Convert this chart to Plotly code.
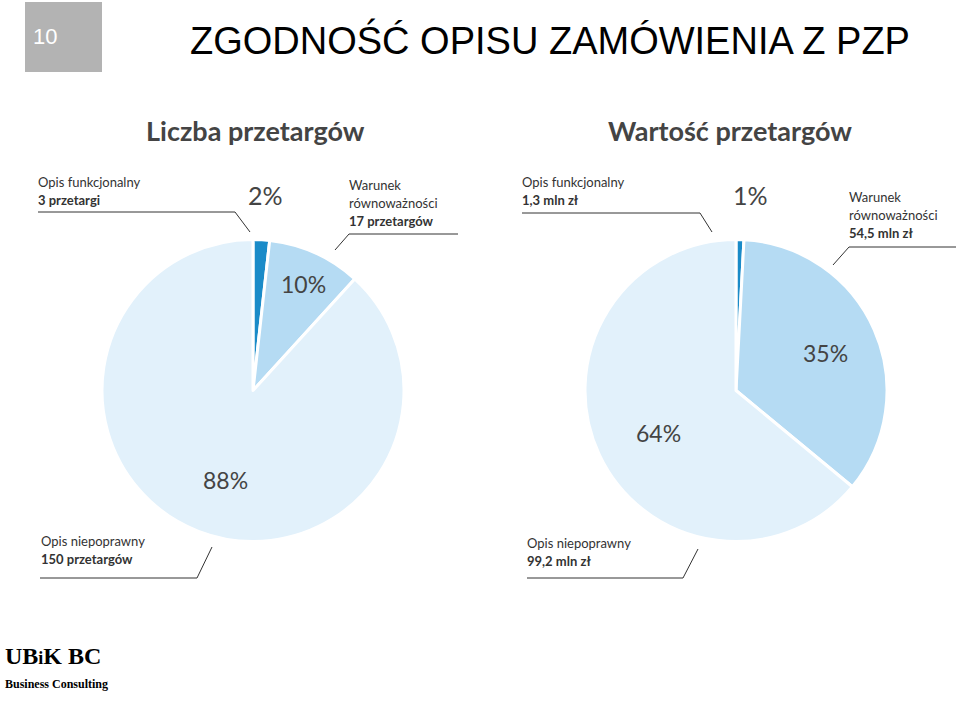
import plotly.graph_objects as go

labels = ["Opis funkcjonalny", "Warunek równoważności", "Opis niepoprawny"]
count_values = [3, 17, 150]
value_mln = [1.3, 54.5, 99.2]
colors = ["#1a8bc8", "#b5dbf3", "#e2f1fb"]

fig = go.Figure()
for vals, dom in [(count_values, [102/960, 404/960]), (value_mln, [585/960, 887/960])]:
    fig.add_trace(go.Pie(values=vals, labels=labels, sort=False, direction="clockwise", rotation=0,
                         marker=dict(colors=colors, line=dict(color="white", width=3)),
                         textinfo="none", hoverinfo="label+percent", showlegend=False,
                         domain=dict(x=dom, y=[(702-543)/702, (702-238)/702])))

def pct(v, i):
    return f"{round(100*v[i]/sum(v))}%"

F = "Lato, sans-serif"
ann = []
def A(x, y, t, s=13, anchor="left", color="#333", bold=False):
    ann.append(dict(x=x/960, y=1-y/702, xref="paper", yref="paper", text=f"<b>{t}</b>" if bold else t,
                    showarrow=False, xanchor=anchor, yanchor="middle", font=dict(family=F, size=s, color=color), align="left"))

A(144, 131, "Liczba przetargów", 27, bold=True, color="#444")
A(606, 131, "Wartość przetargów", 27, bold=True, color="#444")
A(265, 195, pct(count_values, 0), 25, "center", "#444")
A(303, 284, pct(count_values, 1), 23, "center", "#444")
A(225, 480, pct(count_values, 2), 23, "center", "#444")
A(36, 182, "Opis funkcjonalny", 13); A(36, 200, "<b>3 przetargi</b>", 13)
A(347, 185, "Warunek", 13); A(347, 203, "równoważności", 13); A(347, 221, "<b>17 przetargów</b>", 13)
A(39, 541, "Opis niepoprawny", 13); A(39, 559, "<b>150 przetargów</b>", 13)
A(750, 195, pct(value_mln, 0), 25, "center", "#444")
A(825, 353, pct(value_mln, 1), 23, "center", "#444")
A(658, 433, pct(value_mln, 2), 23, "center", "#444")
A(520, 182, "Opis funkcjonalny", 13); A(520, 200, "<b>1,3 mln zł</b>", 13)
A(847, 197, "Warunek", 13); A(847, 215, "równoważności", 13); A(847, 233, "<b>54,5 mln zł</b>", 13)
A(525, 543, "Opis niepoprawny", 13); A(525, 561, "<b>99,2 mln zł</b>", 13)
ann.append(dict(x=188/960, y=1-40/702, xref="paper", yref="paper", text="ZGODNOŚĆ OPISU ZAMÓWIENIA Z PZP",
                showarrow=False, xanchor="left", yanchor="middle", font=dict(family="Liberation Sans", size=38, color="black")))
ann.append(dict(x=45/960, y=1-22/702, xref="paper", yref="paper", text="10", showarrow=False, xanchor="center",
                font=dict(family="Liberation Sans", size=22, color="white")))
ann.append(dict(x=3/960, y=1-671/702, xref="paper", yref="paper", text="<b>UB<span style='font-size:18px'>i</span>K BC</b>", showarrow=False, xanchor="left",
                font=dict(family="Liberation Serif", size=24, color="black")))
ann.append(dict(x=3/960, y=1-693/702, xref="paper", yref="paper", text="<b>Business Consulting</b>", showarrow=False, xanchor="left",
                font=dict(family="Liberation Serif", size=12, color="black")))

def L(pts):
    d = "M " + " L ".join(f"{x/960},{1-y/702}" for x, y in pts)
    return dict(type="path", path=d, xref="paper", yref="paper", line=dict(color="#333", width=1))
shapes = [
    dict(type="rect", xref="paper", yref="paper", x0=25/960, x1=102/960, y0=1-72/702, y1=1-2/702,
         fillcolor="#b3b3b3", line=dict(width=0)),
    L([(38, 212), (235, 212), (250, 232)]),
    L([(458, 234), (349, 234), (335, 250)]),
    L([(40, 578), (197, 578), (212, 547)]),
    L([(522, 213), (700, 213), (712, 232)]),
    L([(956, 247), (849, 247), (833, 265)]),
    L([(527, 578), (683, 578), (698, 549)]),
]
fig.update_layout(width=960, height=702, margin=dict(l=0, r=0, t=0, b=0), paper_bgcolor="white",
                  annotations=ann, shapes=shapes)
fig.write_html("out.html", config={"displayModeBar": False},
               post_script="document.body.style.margin='0';document.body.style.padding='0';")
